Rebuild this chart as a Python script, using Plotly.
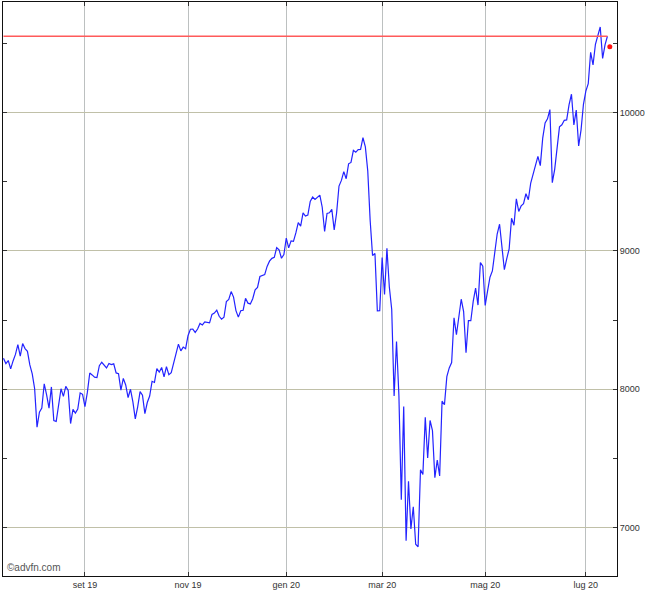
import pandas as pd
import plotly.graph_objects as go

# ---------------- data ----------------
holidays = ["2019-09-02", "2019-11-28", "2019-12-25", "2020-01-01", "2020-01-20",
            "2020-02-17", "2020-04-10", "2020-05-25", "2020-07-03"]
start_date = "2019-07-16"
end_date = "2020-07-15"

jul19 = [8222.80, 8185.21, 8207.24, 8146.49, 8204.14, 8251.40, 8321.50, 8238.54, 8330.21, 8293.33,
         8273.61, 8175.42]
aug19 = [8111.12, 8004.07, 7726.04, 7833.27, 7862.83, 8039.16, 7959.14, 7863.41, 8016.36, 7773.94,
         7766.62, 7895.99, 8002.81, 7948.56, 8020.21, 7991.39, 7751.77, 7853.74, 7826.95, 7856.88,
         7973.39, 7962.88]
sep19 = [7874.16, 7976.88, 8116.83, 8103.07, 8087.44, 8084.16, 8169.68, 8194.47, 8176.71, 8153.54,
         8186.02, 8177.39, 8182.88, 8117.67, 8112.46, 7993.63, 8077.38, 8030.66, 7939.63, 7999.34]
oct19 = [7908.68, 7785.25, 7872.27, 7982.47, 7956.29, 7823.78, 7903.74, 7950.78, 8057.04, 8048.65,
         8148.71, 8124.18, 8156.85, 8089.54, 8162.99, 8104.30, 8119.79, 8185.80, 8243.12, 8325.99,
         8276.85, 8303.98, 8292.36]
nov19 = [8386.40, 8433.20, 8434.68, 8410.63, 8434.52, 8475.31, 8464.28, 8486.09, 8482.10, 8479.02,
         8540.83, 8549.94, 8570.66, 8526.73, 8506.21, 8519.88, 8632.49, 8647.93, 8705.18, 8665.47]
dec19 = [8567.99, 8520.64, 8566.67, 8570.70, 8656.53, 8621.83, 8616.18, 8654.05, 8717.32, 8734.88,
         8814.23, 8823.36, 8827.74, 8887.22, 8924.96, 8945.65, 8952.88, 9022.39, 9006.62, 8945.99,
         8972.60]
jan20 = [9092.19, 9020.77, 9071.47, 9068.58, 9129.24, 9203.43, 9178.86, 9273.93, 9251.33, 9258.70,
         9357.13, 9388.94, 9370.81, 9383.77, 9402.48, 9314.91, 9139.31, 9269.68, 9275.16, 9298.93,
         9150.94]
feb20 = [9273.40, 9467.97, 9508.68, 9572.15, 9520.51, 9628.39, 9638.94, 9725.96, 9711.97, 9731.18,
         9732.74, 9817.18, 9750.97, 9576.59, 9221.28, 8965.61, 8980.78, 8566.48, 8567.37]
mar20 = [8952.16, 8684.09, 9018.09, 8738.59, 8575.62, 7950.68, 8344.25, 7952.05, 7201.80, 7874.88,
         6904.59, 7334.78, 6989.84, 7150.58, 6879.52, 6860.67, 7417.86, 7384.30, 7797.54, 7502.38,
         7774.15, 7700.10]
apr20 = [7360.58, 7487.31, 7373.08, 7913.24, 7887.26, 8090.90, 8153.58, 8192.42, 8515.74, 8393.18,
         8532.36, 8650.14, 8560.73, 8263.23, 8495.38, 8494.75, 8634.52, 8730.16, 8607.73, 8914.71,
         8889.55]
may20 = [8604.95, 8710.72, 8809.12, 8854.39, 8979.66, 9121.32, 9192.34, 9002.55, 8863.17, 8943.72,
         9014.56, 9234.83, 9185.10, 9375.78, 9284.88, 9324.59, 9340.22, 9412.36, 9368.99, 9489.87]
jun20 = [9552.05, 9608.38, 9682.91, 9615.81, 9814.08, 9924.75, 9953.75, 10020.35, 9492.73, 9588.81,
         9726.02, 9895.87, 9910.53, 9943.05, 9946.12, 10056.48, 10131.37, 9909.17, 10017.00, 9757.22,
         9874.15, 10058.77]
jul20 = [10154.63, 10207.63, 10433.65, 10343.89, 10492.50, 10547.75, 10617.44, 10390.84, 10488.58,
         10550.49]

current_price = 10473.83

tick_months = ["2019-09", "2019-11", "2020-01", "2020-03", "2020-05", "2020-07"]
tick_labels = ["set 19", "nov 19", "gen 20", "mar 20", "mag 20", "lug 20"]
y_ticks = [7000, 8000, 9000, 10000]
y_tick_labels = ["7000", "8000", "9000", "10000"]

# ---------------- build ----------------
closes = jul19 + aug19 + sep19 + oct19 + nov19 + dec19 + jan20 + feb20 + mar20 + apr20 + may20 + jun20 + jul20
dates = [d for d in pd.bdate_range(start_date, end_date) if d.strftime("%Y-%m-%d") not in holidays]
n = min(len(dates), len(closes))
dates = dates[:n]
closes = closes[:n]
idx = list(range(n))
tickvals = [next(i for i, d in enumerate(dates) if d.strftime("%Y-%m") == m) for m in tick_months]

fig = go.Figure()
fig.add_trace(go.Scatter(x=idx, y=closes, mode="lines",
                         line=dict(color="#2323ff", width=1.2), hoverinfo="skip"))
fig.add_trace(go.Scatter(x=[0, n - 1], y=[closes[-1], closes[-1]], mode="lines",
                         line=dict(color="#ff5a5a", width=1.5), hoverinfo="skip"))
fig.add_trace(go.Scatter(x=[n], y=[current_price], mode="markers",
                         marker=dict(color="#ff1010", size=5), hoverinfo="skip"))

font = dict(family="Liberation Sans, Arial, sans-serif", size=9, color="#333333")

fig.update_layout(
    width=660, height=591,
    template="none",
    paper_bgcolor="white", plot_bgcolor="white",
    showlegend=False,
    margin=dict(l=3, r=43, t=2, b=15, autoexpand=False),
    font=font,
    xaxis=dict(
        range=[-0.2, 256.0],
        tickmode="array", tickvals=tickvals, ticktext=tick_labels,
        showgrid=True, gridcolor="#bcc0c0", gridwidth=1,
        zeroline=False,
        showline=True, linecolor="#111111", linewidth=1, mirror="allticks",
        ticks="inside", ticklen=4, tickcolor="#333333",
        tickfont=font, automargin=False,
    ),
    yaxis=dict(
        range=[6650, 10798], side="right",
        tickmode="array", tickvals=y_ticks, ticktext=y_tick_labels,
        showgrid=True, gridcolor="#c0c0a8", gridwidth=1,
        zeroline=False,
        showline=True, linecolor="#111111", linewidth=1, mirror="allticks",
        ticks="inside", ticklen=4, tickcolor="#333333",
        minor=dict(dtick=500, tick0=0, ticks="inside", ticklen=4, tickcolor="#333333", showgrid=False),
        tickfont=font, automargin=False,
    ),
    annotations=[dict(text="©advfn.com", xref="paper", yref="paper", x=0.003, y=0.002,
                      xanchor="left", yanchor="bottom", showarrow=False,
                      font=dict(family="Liberation Sans, Arial, sans-serif", size=10, color="#555555"))],
)

fig.write_html("out.html", config={"displayModeBar": False},
               post_script="document.body.style.margin='0px';document.body.style.padding='0px';")
